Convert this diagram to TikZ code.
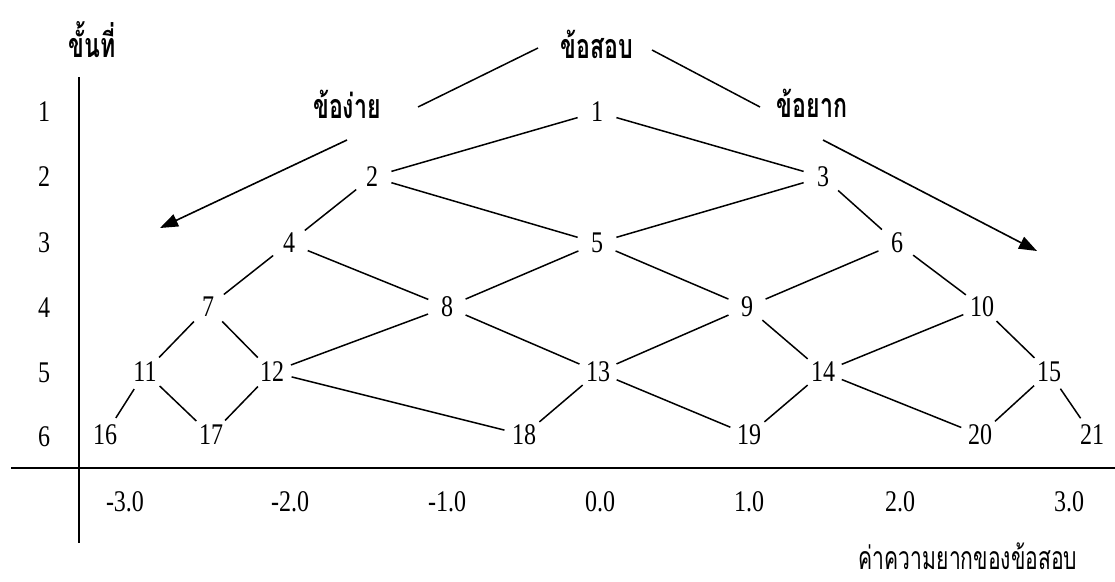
\documentclass[tikz,border=0pt]{standalone}
\usepackage{fontspec}
\setmainfont[FakeStretch=0.8]{Liberation Serif}
\newfontfamily\thaihead[Script=Thai,FakeStretch=0.68]{Loma}
\newfontfamily\thaiplain[Script=Thai,FakeStretch=0.66]{Loma}
\usetikzlibrary{arrows.meta}
\tikzset{
  num/.style={circle, minimum size=40pt, inner sep=0pt, font=\fontsize{30}{30}\selectfont},
  axlab/.style={inner sep=0pt, font=\fontsize{30}{30}\selectfont},
  head/.style={inner sep=0pt, anchor=base, font=\fontsize{34}{34}\thaihead\bfseries},
  link/.style={line width=1.5pt, black},
  axis/.style={line width=2pt, black},
  trend/.style={line width=1.6pt, -{Triangle[length=18pt,width=13pt]}}
}
\begin{document}
\begin{tikzpicture}[x=1pt,y=-1pt]
\useasboundingbox (0,0) rectangle (1115,581);
% axes
\coordinate (ytop) at (79,77);
\coordinate (ybot) at (79,543);
\coordinate (xl) at (11,468);
\coordinate (xr) at (1115,468);
\draw[axis] (ytop) -- (ybot);
\draw[axis] (xl) -- (xr);
% row labels
\node[axlab] (r1) at (44,112) {1};
\node[axlab] (r2) at (44,177) {2};
\node[axlab] (r3) at (44,243) {3};
\node[axlab] (r4) at (44,308) {4};
\node[axlab] (r5) at (44,373) {5};
\node[axlab] (r6) at (44,437) {6};
% tick labels
\node[axlab] (tm3) at (125,502) {-3.0};
\node[axlab] (tm2) at (290,502) {-2.0};
\node[axlab] (tm1) at (447,502) {-1.0};
\node[axlab] (t0) at (600,502) {0.0};
\node[axlab] (t1) at (749,502) {1.0};
\node[axlab] (t2) at (900,502) {2.0};
\node[axlab] (t3) at (1069,502) {3.0};
% headings
\node[head] (step) at (92,57) {ขั้นที่};
\node[head] (exam) at (597,58) {ข้อสอบ};
\node[head] (easy) at (347,118) {ข้อง่าย};
\node[head] (hard) at (812,117) {ข้อยาก};
\node[inner sep=0pt, anchor=base, text depth=0pt, font=\fontsize{32}{32}\thaiplain] (xtitle) at (968,569) {ค่าความยากของข้อสอบ};
% heading connectors
\coordinate (el1) at (538,48);
\coordinate (el2) at (418,107);
\coordinate (hl1) at (652,50);
\coordinate (hl2) at (760,107);
\draw[link] (el1) -- (el2);
\draw[link] (hl1) -- (hl2);
\coordinate (ea1) at (347,140);
\coordinate (ea2) at (160,228);
\coordinate (ha1) at (823,140);
\coordinate (ha2) at (1037,251);
\draw[trend] (ea1) -- (ea2);
\draw[trend] (ha1) -- (ha2);
% nodes
\node[num] (n1) at (597,112) {1};
\node[num] (n2) at (372,177) {2};
\node[num] (n3) at (823,177) {3};
\node[num] (n4) at (289,243) {4};
\node[num] (n5) at (597,243) {5};
\node[num] (n6) at (897,243) {6};
\node[num] (n7) at (208,307) {7};
\node[num] (n8) at (447,307) {8};
\node[num] (n9) at (747,307) {9};
\node[num] (n10) at (982,307) {10};
\node[num] (n11) at (145,372) {11};
\node[num] (n12) at (272,372) {12};
\node[num] (n13) at (598,372) {13};
\node[num] (n14) at (823,372) {14};
\node[num] (n15) at (1049,372) {15};
\node[num] (n16) at (105,435) {16};
\node[num] (n17) at (211,435) {17};
\node[num] (n18) at (524,435) {18};
\node[num] (n19) at (749,435) {19};
\node[num] (n20) at (980,435) {20};
\node[num] (n21) at (1092,435) {21};
% edges
\foreach \a/\b in {1/2,1/3,2/4,2/5,3/5,3/6,4/7,4/8,5/8,5/9,6/9,6/10,7/11,7/12,8/12,8/13,9/13,9/14,10/14,10/15,11/16,11/17,12/17,12/18,13/18,13/19,14/19,14/20,15/20,15/21}
  \draw[link] (n\a) -- (n\b);
\end{tikzpicture}
\end{document}
